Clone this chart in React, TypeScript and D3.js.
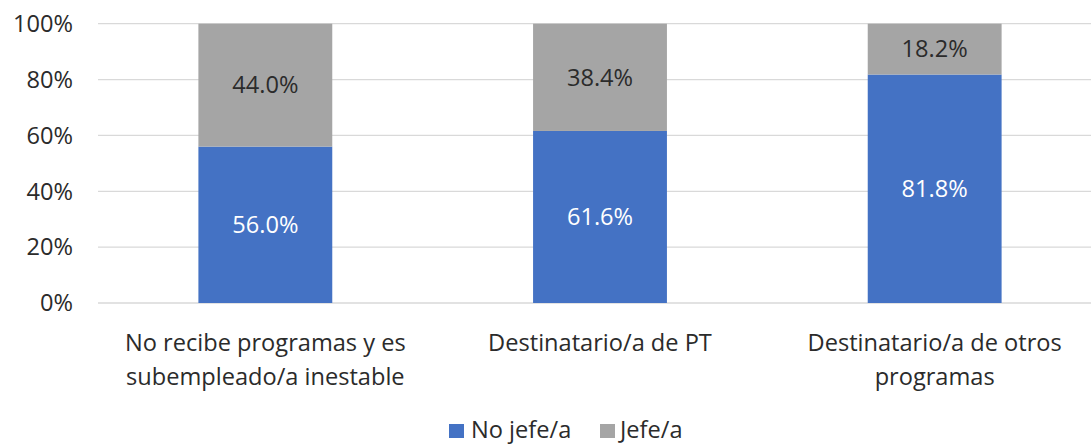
import React from "react";
import * as d3 from "d3";

const categories = [
  ["No recibe programas y es", "subempleado/a inestable"],
  ["Destinatario/a de PT"],
  ["Destinatario/a de otros", "programas"],
];
const noJefe = [56.0, 61.6, 81.8];
const jefe = [44.0, 38.4, 18.2];
const yTicks = [0, 20, 40, 60, 80, 100];
const seriesNames = ["No jefe/a", "Jefe/a"];
const colors = ["#4472C4", "#A5A5A5"];

const W = 1091;
const H = 444;
const FONT = "'Open Sans', sans-serif";
const FS = 23.6;
const TXT = "#2b2b2b";

export default function App() {
  const x = d3
    .scaleBand<number>()
    .domain(d3.range(categories.length))
    .range([98, 1102])
    .paddingInner(0.6)
    .paddingOuter(0.3);
  const y = d3.scaleLinear().domain([0, 100]).range([303, 23.7]);
  const fmt = (v: number) => v.toFixed(1) + "%";

  return (
    <svg width={W} height={H} style={{ position: "absolute", left: 0, top: 0, background: "#fff" }}>
      <g>
        {yTicks.map((t) => (
          <g key={t}>
            <line x1={98} x2={1102} y1={y(t)} y2={y(t)} stroke="#D9D9D9" strokeWidth={1.3} />
            <text
              x={73}
              y={y(t)}
              dy="0.35em"
              textAnchor="end"
              fontFamily={FONT}
              fontSize={FS}
              fill={TXT}
            >
              {t}%
            </text>
          </g>
        ))}
      </g>
      {categories.map((c, i) => {
        const bx = x(i)!;
        const bw = x.bandwidth();
        const y0 = y(0);
        const y1 = y(noJefe[i]);
        const y2 = y(noJefe[i] + jefe[i]);
        const cx = bx + bw / 2;
        return (
          <g key={i}>
            <rect x={bx} y={y1} width={bw} height={y0 - y1} fill={colors[0]} />
            <rect x={bx} y={y2} width={bw} height={y1 - y2} fill={colors[1]} />
            <text x={cx} y={(y0 + y1) / 2} dy="0.35em" textAnchor="middle" fontFamily={FONT} fontSize={FS} fill="#fff">
              {fmt(noJefe[i])}
            </text>
            <text x={cx} y={(y1 + y2) / 2} dy="0.35em" textAnchor="middle" fontFamily={FONT} fontSize={FS} fill={TXT}>
              {fmt(jefe[i])}
            </text>
            {c.map((line, j) => (
              <text
                key={j}
                x={cx}
                y={343 + j * 34}
                dy="0.35em"
                textAnchor="middle"
                fontFamily={FONT}
                fontSize={FS}
                fill={TXT}
              >
                {line}
              </text>
            ))}
          </g>
        );
      })}
      <g>
        <rect x={449} y={424} width={15} height={14} fill={colors[0]} />
        <text x={471} y={430} dy="0.35em" fontFamily={FONT} fontSize={FS} fill={TXT}>
          {seriesNames[0]}
        </text>
        <rect x={600} y={424} width={15} height={14} fill={colors[1]} />
        <text x={620} y={430} dy="0.35em" fontFamily={FONT} fontSize={FS} fill={TXT}>
          {seriesNames[1]}
        </text>
      </g>
    </svg>
  );
}
